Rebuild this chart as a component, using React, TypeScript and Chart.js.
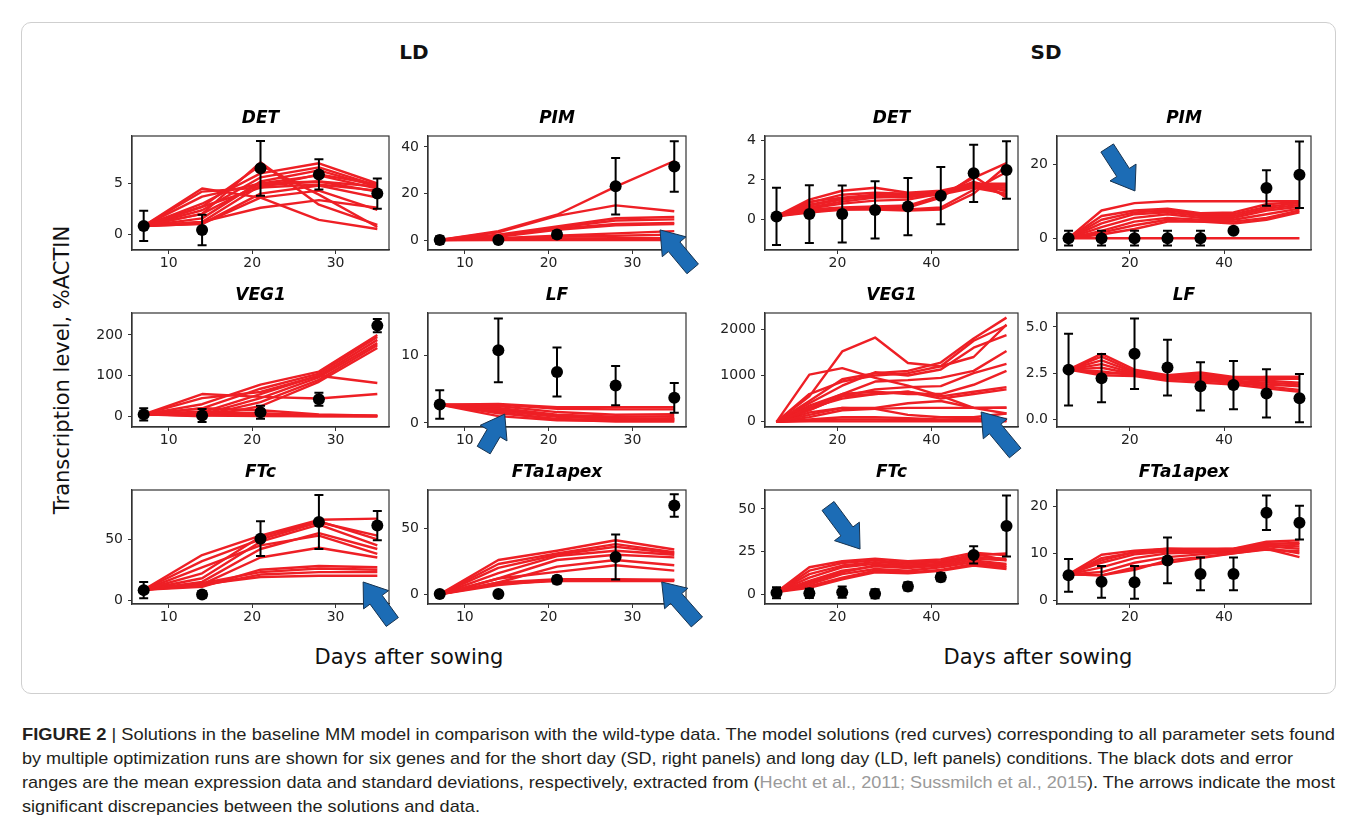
import React, { useEffect, useLayoutEffect, useRef } from 'react';
import { Chart, registerables } from 'chart.js';

Chart.register(...registerables);
Chart.defaults.font.family = "'DejaVu Sans', sans-serif";

// ---------------- data ----------------
const LD_DAYS = [7, 14, 21, 28, 35];
const SD_DAYS = [7, 14, 21, 28, 35, 42, 49, 56];
const LD_X_TICKS = [10, 20, 30];
const SD_X_TICKS = [20, 40];
const LD_X_RANGE = [5.6, 36.4];
const SD_X_RANGE = [4.55, 58.45];

// LD DET
const LD_DET_MEAN = [0.8, 0.4, 6.5, 5.9, 4.0];
const LD_DET_SD = [1.5, 1.5, 2.7, 1.5, 1.5];
const LD_DET_CURVES = [
  [0.8, 4.5, 3.6, 1.4, 0.5],
  [0.8, 4.2, 4.6, 4.9, 4.3],
  [0.8, 3.7, 5.0, 5.2, 4.7],
  [0.8, 2.0, 7.1, 2.9, 0.9],
  [0.8, 2.7, 6.8, 3.9, 0.7],
  [0.8, 3.0, 6.0, 7.0, 5.0],
  [0.8, 2.35, 5.6, 6.6, 4.8],
  [0.8, 1.55, 5.2, 6.3, 4.7],
  [0.8, 2.0, 5.0, 5.8, 4.5],
  [0.8, 1.2, 4.8, 5.2, 4.2],
  [0.8, 1.0, 4.0, 4.8, 3.6],
  [0.8, 1.2, 2.6, 3.35, 2.6],
  [0.8, 1.0, 3.6, 4.3, 2.4],
  [0.8, 2.7, 4.6, 5.9, 4.9],
];
const LD_DET_Y = [-1.58, 9.7];
const LD_DET_TICKS = [0, 5];

// LD PIM
const LD_PIM_MEAN = [0.2, 0.2, 2.5, 23.2, 31.6];
const LD_PIM_SD = [1.6, 1.3, 1.5, 12.1, 10.8];
const LD_PIM_CURVES = [
  [0.2, 4, 11, 23, 34],
  [0.2, 3.5, 10.5, 15, 12.5],
  [0.2, 2.5, 6, 9.5, 10],
  [0.2, 2, 5.5, 8.5, 9],
  [0.2, 2, 5, 7, 7.5],
  [0.2, 1.5, 4.5, 6.5, 7],
  [0.2, 1, 2, 3, 4],
  [0.2, 0.8, 1.5, 2, 2.5],
  [0.2, 0.5, 0.8, 1, 1],
  [0.2, 0.3, 0.4, 0.5, 0.5],
  [0.2, 0.2, 0.2, 0.2, 0.2],
];
const LD_PIM_Y = [-4.1, 44.7];
const LD_PIM_TICKS = [0, 20, 40];
const LD_PIM_ARROW = [33.3, 4.5, 37.2, -12.2];

// LD VEG1
const LD_VEG1_MEAN = [5, 2.5, 10, 42, 223];
const LD_VEG1_SD = [15, 16, 16, 16, 16];
const LD_VEG1_CURVES = [
  [5, 55, 48, 44, 55],
  [5, 45, 60, 100, 82],
  [5, 30, 78, 110, 200],
  [5, 20, 68, 105, 195],
  [5, 10, 55, 100, 188],
  [5, 5, 45, 96, 180],
  [5, 2, 35, 90, 175],
  [5, 0, 25, 85, 168],
  [5, 12, 8, 3, 2],
  [5, 8, 5, 2, 1],
  [5, 4, 2, 1, 0.5],
  [5, 2, 1, 0.5, 0.2],
  [5, 20, 15, 5, 2],
];
const LD_VEG1_Y = [-26, 254];
const LD_VEG1_TICKS = [0, 100, 200];

// LD LF
const LD_LF_MEAN = [2.7, 10.7, 7.5, 5.5, 3.7];
const LD_LF_SD = [2.1, 4.7, 3.6, 2.9, 2.2];
const LD_LF_CURVES = [
  [2.7, 2.8, 2.3, 2.3, 2.3],
  [2.7, 2.7, 2.1, 2.0, 2.0],
  [2.7, 2.5, 1.6, 1.2, 1.3],
  [2.7, 2.2, 1.2, 0.9, 1.0],
  [2.7, 1.8, 0.9, 0.6, 0.7],
  [2.7, 1.4, 0.6, 0.4, 0.5],
  [2.7, 1.0, 0.4, 0.3, 0.3],
  [2.7, 2.0, 1.0, 0.7, 0.6],
  [2.7, 1.6, 0.5, 0.2, 0.2],
];
const LD_LF_Y = [-0.6, 16.2];
const LD_LF_TICKS = [0, 10];
const LD_LF_ARROW = [14.76, 1.3, 12.25, -4.0];

// LD FTc
const LD_FTC_MEAN = [8.2, 4.6, 50.5, 64.2, 61.3];
const LD_FTC_SD = [6.6, 2.8, 14.3, 22.2, 12];
const LD_FTC_CURVES = [
  [8.5, 37, 53, 66, 67],
  [8.5, 32, 50, 64, 53],
  [8.5, 22, 52, 65, 50],
  [8.5, 18, 48, 62, 45],
  [8.5, 15, 42, 55, 42],
  [8.5, 27, 45, 53, 38],
  [8.5, 13, 35, 43, 35],
  [8.5, 11, 25, 28, 27],
  [8.5, 14, 23, 26, 25],
  [8.5, 12, 21, 23, 23],
  [8.5, 13, 19, 20, 20],
];
const LD_FTC_Y = [-3.2, 90.5];
const LD_FTC_TICKS = [0, 50];
const LD_FTC_ARROW = [33.3, 14.9, 36.8, -18];

// LD FTa1apex
const LD_FTA_MEAN = [0.3, 0.3, 11, 28.3, 67.2];
const LD_FTA_SD = [2.0, 2.0, 2.8, 17, 8.5];
const LD_FTA_CURVES = [
  [0, 26, 33, 41, 34],
  [0, 23, 31, 38, 32],
  [0, 20, 30, 36, 31],
  [0, 16, 29, 33, 30],
  [0, 12, 26, 30, 28],
  [0, 9, 21, 26, 22],
  [0, 12, 17, 22, 18],
  [0, 7, 11, 11, 11],
  [0, 8, 10, 10, 10],
  [0, 9, 11.5, 11.5, 11],
];
const LD_FTA_Y = [-7.3, 79];
const LD_FTA_TICKS = [0, 50];
const LD_FTA_ARROW = [33.5, 9.35, 37.7, -20.9];

// SD DET
const SD_DET_MEAN = [0.15, 0.27, 0.27, 0.48, 0.65, 1.2, 2.33, 2.5];
const SD_DET_SD = [1.45, 1.46, 1.44, 1.45, 1.45, 1.45, 1.45, 1.46];
const SD_DET_CURVES = [
  [0.15, 1.0, 1.45, 1.6, 1.35, 1.45, 1.8, 1.8],
  [0.15, 0.85, 1.25, 1.35, 1.3, 1.4, 1.75, 1.7],
  [0.15, 0.9, 1.1, 1.25, 1.25, 1.35, 1.7, 1.6],
  [0.15, 0.7, 1.0, 1.2, 1.2, 1.3, 1.65, 1.5],
  [0.15, 0.6, 0.9, 1.1, 1.15, 1.25, 1.6, 1.3],
  [0.15, 0.5, 0.6, 0.65, 0.7, 1.2, 2.1, 2.85],
  [0.15, 0.45, 0.55, 0.6, 0.5, 0.6, 1.5, 2.4],
  [0.15, 0.4, 0.5, 0.5, 0.45, 0.5, 1.3, 2.7],
  [0.15, 0.35, 0.5, 0.55, 0.6, 1.1, 2.2, 1.1],
  [0.15, 0.55, 0.8, 0.95, 1.0, 1.3, 1.9, 1.4],
  [0.15, 0.75, 1.05, 1.15, 1.1, 1.4, 1.8, 1.2],
];
const SD_DET_Y = [-1.55, 4.22];
const SD_DET_TICKS = [0, 2, 4];

// SD PIM
const SD_PIM_MEAN = [0, 0, 0, 0, 0, 2.0, 13.6, 17.2];
const SD_PIM_SD = [2, 2, 2, 2, 2, 0.3, 4.8, 9];
const SD_PIM_CURVES = [
  [0, 7.5, 9.5, 10, 10, 10, 10, 10],
  [0, 6, 7.5, 8, 6.8, 7, 9.2, 9.8],
  [0, 5, 7, 7.5, 6.5, 6.5, 8.5, 9.5],
  [0, 4, 6.5, 7, 6, 6, 8, 9],
  [0, 3, 5.5, 6.5, 5.5, 5.5, 7.5, 8.5],
  [0, 2, 4.5, 5.5, 5, 5, 6.5, 8],
  [0, 1.5, 3.5, 5, 4.5, 4.5, 5.5, 7.5],
  [0, 1, 2.5, 4.5, 4.5, 4, 5, 7],
  [0, 0, 0, 0, 0, 0, 0, 0],
];
const SD_PIM_Y = [-3.2, 27.7];
const SD_PIM_TICKS = [0, 20];
const SD_PIM_ARROW = [21.1, 12.8, 15.2, 24.45];

// SD VEG1 (no measured points)
const SD_VEG1_MEAN: number[] = [];
const SD_VEG1_SD: number[] = [];
const SD_VEG1_CURVES = [
  [0, 1020, 1160, 950, 780, 560, 300, 180],
  [0, 550, 1520, 1820, 1270, 1200, 1400, 2100],
  [0, 450, 920, 1050, 1100, 1280, 1800, 2250],
  [0, 600, 870, 1000, 1050, 1200, 1750, 2080],
  [0, 400, 780, 1070, 1000, 1130, 1600, 1870],
  [0, 300, 600, 870, 900, 950, 1100, 1530],
  [0, 250, 550, 700, 750, 770, 1050, 1250],
  [0, 350, 600, 650, 600, 600, 800, 1100],
  [0, 250, 550, 600, 650, 550, 650, 750],
  [0, 300, 500, 600, 650, 500, 600, 700],
  [0, 150, 300, 300, 400, 450, 300, 310],
  [0, 100, 250, 280, 300, 300, 300, 300],
  [0, 200, 300, 280, 150, 100, 100, 180],
  [0, 50, 100, 100, 80, 50, 60, 60],
  [0, 30, 50, 50, 40, 30, 30, 20],
  [0, 10, 10, 10, 10, 10, 10, 10],
];
const SD_VEG1_Y = [-112, 2350];
const SD_VEG1_TICKS = [0, 1000, 2000];
const SD_VEG1_ARROW = [50.6, 212, 57.85, -674];

// SD LF
const SD_LF_MEAN = [2.7, 2.24, 3.55, 2.81, 1.8, 1.87, 1.42, 1.16];
const SD_LF_SD = [1.93, 1.3, 1.9, 1.5, 1.3, 1.3, 1.3, 1.3];
const SD_LF_CURVES = [
  [2.7, 3.55, 2.7, 2.4, 2.55, 2.3, 2.3, 2.3],
  [2.7, 3.4, 2.6, 2.35, 2.5, 2.25, 2.2, 2.2],
  [2.7, 3.2, 2.55, 2.3, 2.4, 2.2, 2.1, 2.0],
  [2.7, 3.0, 2.5, 2.3, 2.3, 2.1, 2.0, 1.9],
  [2.7, 2.8, 2.45, 2.2, 2.2, 2.05, 1.9, 1.8],
  [2.7, 2.6, 2.4, 2.2, 2.1, 2.0, 1.8, 1.6],
  [2.7, 2.4, 2.35, 2.1, 2.0, 1.9, 1.7, 1.5],
  [2.7, 2.5, 2.5, 2.3, 2.2, 2.2, 2.3, 2.3],
];
const SD_LF_Y = [-0.39, 5.75];
const SD_LF_TICKS = [0, 2.5, 5];

// SD FTc
const SD_FTC_MEAN = [1.2, 0.8, 1.5, 0.6, 4.8, 10.2, 23.2, 40];
const SD_FTC_SD = [3.2, 2.7, 3.3, 2.6, 2.4, 2.4, 5, 17.8];
const SD_FTC_CURVES = [
  [1.5, 16, 19.5, 21, 19.5, 20.5, 24.5, 23],
  [1.5, 14, 18.5, 20, 18.5, 19.5, 23, 24],
  [1.5, 12, 17, 19, 18, 19, 22, 21],
  [1.5, 10, 16, 18, 17, 18, 21, 20],
  [1.5, 8, 14, 16.5, 15.5, 17, 20, 18],
  [1.5, 6, 12, 15, 14, 16, 19, 17],
  [1.5, 5, 10, 14, 13, 14.5, 18, 16],
  [1.5, 4, 9, 13, 12.5, 14, 17, 15],
  [1.5, 7, 13, 17, 16, 18, 24, 20],
];
const SD_FTC_Y = [-5.4, 61];
const SD_FTC_TICKS = [0, 25, 50];
const SD_FTC_ARROW = [24.8, 26.6, 17.98, 51.7];

// SD FTa1apex
const SD_FTA_MEAN = [5.3, 3.9, 3.8, 8.5, 5.6, 5.6, 18.7, 16.6];
const SD_FTA_SD = [3.5, 3.4, 3.5, 4.9, 3.5, 3.5, 3.7, 3.6];
const SD_FTA_CURVES = [
  [5.5, 9.7, 10.6, 11, 11, 11, 12.5, 12.8],
  [5.5, 9.0, 10.2, 10.7, 10.7, 10.8, 12.2, 12.0],
  [5.5, 8.0, 9.8, 10.4, 10.5, 10.6, 11.8, 11.5],
  [5.5, 7.0, 9.0, 10.0, 10.2, 10.5, 11.5, 11.0],
  [5.5, 6.0, 8.0, 9.2, 9.8, 10.3, 11.2, 10.0],
  [5.5, 5.3, 6.5, 8.5, 9.2, 10.0, 11.0, 9.2],
  [5.5, 5.3, 7.0, 8.0, 9.0, 10.0, 10.8, 10.5],
  [5.5, 8.5, 10.3, 11, 10.8, 11, 12.0, 12.3],
];
const SD_FTA_Y = [-0.85, 23.6];
const SD_FTA_TICKS = [0, 10, 20];

// ---------------- layout ----------------
const COLS = [
  { left: 132, w: 257 },
  { left: 428, w: 258 },
  { left: 765, w: 253 },
  { left: 1057, w: 254 },
];
const ROW_TOPS = [136, 313, 490];
const PLOT_H = 114;
const Y_AXIS_W = 62;
const X_AXIS_H = 42;
const TITLE_H = 32;
const RIGHT_PAD = 30;

const RED = '#ee1f25';
const AXIS = '#333333';
const TXT = '#222222';

type PanelDef = {
  key: string; title: string; col: number; row: number;
  days: number[]; xRange: number[]; xTicks: number[];
  mean: number[]; sd: number[]; curves: number[][];
  yRange: number[]; yTicks: number[]; decimals: number;
  arrow: number[] | null;
};

const PANELS: PanelDef[] = [
  { key: 'ld-det', title: 'DET', col: 0, row: 0, days: LD_DAYS, xRange: LD_X_RANGE, xTicks: LD_X_TICKS, mean: LD_DET_MEAN, sd: LD_DET_SD, curves: LD_DET_CURVES, yRange: LD_DET_Y, yTicks: LD_DET_TICKS, decimals: 0, arrow: null },
  { key: 'ld-pim', title: 'PIM', col: 1, row: 0, days: LD_DAYS, xRange: LD_X_RANGE, xTicks: LD_X_TICKS, mean: LD_PIM_MEAN, sd: LD_PIM_SD, curves: LD_PIM_CURVES, yRange: LD_PIM_Y, yTicks: LD_PIM_TICKS, decimals: 0, arrow: LD_PIM_ARROW },
  { key: 'ld-veg1', title: 'VEG1', col: 0, row: 1, days: LD_DAYS, xRange: LD_X_RANGE, xTicks: LD_X_TICKS, mean: LD_VEG1_MEAN, sd: LD_VEG1_SD, curves: LD_VEG1_CURVES, yRange: LD_VEG1_Y, yTicks: LD_VEG1_TICKS, decimals: 0, arrow: null },
  { key: 'ld-lf', title: 'LF', col: 1, row: 1, days: LD_DAYS, xRange: LD_X_RANGE, xTicks: LD_X_TICKS, mean: LD_LF_MEAN, sd: LD_LF_SD, curves: LD_LF_CURVES, yRange: LD_LF_Y, yTicks: LD_LF_TICKS, decimals: 0, arrow: LD_LF_ARROW },
  { key: 'ld-ftc', title: 'FTc', col: 0, row: 2, days: LD_DAYS, xRange: LD_X_RANGE, xTicks: LD_X_TICKS, mean: LD_FTC_MEAN, sd: LD_FTC_SD, curves: LD_FTC_CURVES, yRange: LD_FTC_Y, yTicks: LD_FTC_TICKS, decimals: 0, arrow: LD_FTC_ARROW },
  { key: 'ld-fta', title: 'FTa1apex', col: 1, row: 2, days: LD_DAYS, xRange: LD_X_RANGE, xTicks: LD_X_TICKS, mean: LD_FTA_MEAN, sd: LD_FTA_SD, curves: LD_FTA_CURVES, yRange: LD_FTA_Y, yTicks: LD_FTA_TICKS, decimals: 0, arrow: LD_FTA_ARROW },
  { key: 'sd-det', title: 'DET', col: 2, row: 0, days: SD_DAYS, xRange: SD_X_RANGE, xTicks: SD_X_TICKS, mean: SD_DET_MEAN, sd: SD_DET_SD, curves: SD_DET_CURVES, yRange: SD_DET_Y, yTicks: SD_DET_TICKS, decimals: 0, arrow: null },
  { key: 'sd-pim', title: 'PIM', col: 3, row: 0, days: SD_DAYS, xRange: SD_X_RANGE, xTicks: SD_X_TICKS, mean: SD_PIM_MEAN, sd: SD_PIM_SD, curves: SD_PIM_CURVES, yRange: SD_PIM_Y, yTicks: SD_PIM_TICKS, decimals: 0, arrow: SD_PIM_ARROW },
  { key: 'sd-veg1', title: 'VEG1', col: 2, row: 1, days: SD_DAYS, xRange: SD_X_RANGE, xTicks: SD_X_TICKS, mean: SD_VEG1_MEAN, sd: SD_VEG1_SD, curves: SD_VEG1_CURVES, yRange: SD_VEG1_Y, yTicks: SD_VEG1_TICKS, decimals: 0, arrow: SD_VEG1_ARROW },
  { key: 'sd-lf', title: 'LF', col: 3, row: 1, days: SD_DAYS, xRange: SD_X_RANGE, xTicks: SD_X_TICKS, mean: SD_LF_MEAN, sd: SD_LF_SD, curves: SD_LF_CURVES, yRange: SD_LF_Y, yTicks: SD_LF_TICKS, decimals: 1, arrow: null },
  { key: 'sd-ftc', title: 'FTc', col: 2, row: 2, days: SD_DAYS, xRange: SD_X_RANGE, xTicks: SD_X_TICKS, mean: SD_FTC_MEAN, sd: SD_FTC_SD, curves: SD_FTC_CURVES, yRange: SD_FTC_Y, yTicks: SD_FTC_TICKS, decimals: 0, arrow: SD_FTC_ARROW },
  { key: 'sd-fta', title: 'FTa1apex', col: 3, row: 2, days: SD_DAYS, xRange: SD_X_RANGE, xTicks: SD_X_TICKS, mean: SD_FTA_MEAN, sd: SD_FTA_SD, curves: SD_FTA_CURVES, yRange: SD_FTA_Y, yTicks: SD_FTA_TICKS, decimals: 0, arrow: null },
];

function drawArrow(ctx: CanvasRenderingContext2D, tx: number, ty: number, sx: number, sy: number) {
  const dx = tx - sx, dy = ty - sy;
  const len = Math.hypot(dx, dy);
  const ux = dx / len, uy = dy / len;
  const nx = -uy, ny = ux;
  const sw = 7.5, hw = 15.5, hl = 22;
  const bx = tx - ux * hl, by = ty - uy * hl;
  ctx.save();
  ctx.beginPath();
  ctx.moveTo(sx + nx * sw, sy + ny * sw);
  ctx.lineTo(bx + nx * sw, by + ny * sw);
  ctx.lineTo(bx + nx * hw, by + ny * hw);
  ctx.lineTo(tx, ty);
  ctx.lineTo(bx - nx * hw, by - ny * hw);
  ctx.lineTo(bx - nx * sw, by - ny * sw);
  ctx.lineTo(sx - nx * sw, sy - ny * sw);
  ctx.closePath();
  ctx.fillStyle = '#1c6cb5';
  ctx.fill();
  ctx.lineWidth = 1;
  ctx.strokeStyle = '#16324f';
  ctx.stroke();
  ctx.restore();
}

function PanelChart({ p }: { p: PanelDef }) {
  const ref = useRef<HTMLCanvasElement>(null);
  const col = COLS[p.col];
  const top = ROW_TOPS[p.row];
  const cw = Y_AXIS_W + col.w + RIGHT_PAD;
  const ch = TITLE_H + PLOT_H + X_AXIS_H;

  useEffect(() => {
    const decor = {
      id: 'decor',
      beforeDatasetDraw(chart: any, args: any) {
        if (args.index !== 0) return;
        const ctx = chart.ctx as CanvasRenderingContext2D;
        const xs = chart.scales.x, ys = chart.scales.y;
        ctx.save();
        ctx.strokeStyle = '#000';
        ctx.lineWidth = 2;
        p.mean.forEach((m, i) => {
          const x = xs.getPixelForValue(p.days[i]);
          const y1 = ys.getPixelForValue(m + p.sd[i]);
          const y2 = ys.getPixelForValue(m - p.sd[i]);
          ctx.beginPath();
          ctx.moveTo(x, y1); ctx.lineTo(x, y2);
          ctx.moveTo(x - 4.5, y1); ctx.lineTo(x + 4.5, y1);
          ctx.moveTo(x - 4.5, y2); ctx.lineTo(x + 4.5, y2);
          ctx.stroke();
        });
        ctx.restore();
      },
      afterDraw(chart: any) {
        const ctx = chart.ctx as CanvasRenderingContext2D;
        const a = chart.chartArea;
        ctx.save();
        ctx.strokeStyle = AXIS;
        ctx.lineWidth = 1.2;
        ctx.strokeRect(a.left, a.top, a.right - a.left, a.bottom - a.top);
        ctx.restore();
        if (p.arrow) {
          const xs = chart.scales.x, ys = chart.scales.y;
          drawArrow(ctx,
            xs.getPixelForValue(p.arrow[0]), ys.getPixelForValue(p.arrow[1]),
            xs.getPixelForValue(p.arrow[2]), ys.getPixelForValue(p.arrow[3]));
        }
      },
    };

    const datasets: any[] = [
      {
        data: p.mean.map((m, i) => ({ x: p.days[i], y: m })),
        showLine: false,
        pointRadius: 6,
        pointBackgroundColor: '#000',
        pointBorderColor: '#000',
        pointBorderWidth: 0,
        clip: false,
      },
      ...p.curves.map((c) => ({
        data: c.map((v, i) => ({ x: p.days[i], y: v })),
        borderColor: RED,
        borderWidth: 2.4,
        pointRadius: 0,
        tension: 0,
        fill: false,
        borderJoinStyle: 'round',
      })),
    ];

    const axisCommon = {
      grid: { display: true, drawOnChartArea: false, drawTicks: true, tickLength: 4, color: AXIS, lineWidth: 1 },
      border: { display: true, color: AXIS, width: 1.2 },
    };

    const chart = new Chart(ref.current as HTMLCanvasElement, {
      type: 'line',
      data: { datasets },
      options: {
        responsive: false,
        animation: false,
        devicePixelRatio: 1,
        layout: { padding: { left: 0, right: RIGHT_PAD, top: 0, bottom: 0 } },
        plugins: {
          legend: { display: false },
          tooltip: { enabled: false },
          title: {
            display: true,
            text: p.title,
            fullSize: false,
            color: '#000',
            font: { family: "'DejaVu Sans', sans-serif", size: 17, weight: 'bold', style: 'italic', lineHeight: '20px' },
            padding: { top: 5, bottom: 7 },
          },
        },
        scales: {
          x: {
            type: 'linear',
            min: p.xRange[0],
            max: p.xRange[1],
            ...axisCommon,
            afterBuildTicks: (s: any) => { s.ticks = p.xTicks.map((v) => ({ value: v })); },
            afterFit: (s: any) => { s.height = X_AXIS_H; },
            ticks: { color: TXT, font: { size: 14 }, padding: 1, autoSkip: false, maxRotation: 0, callback: (v: any) => String(v) },
          },
          y: {
            type: 'linear',
            min: p.yRange[0],
            max: p.yRange[1],
            ...axisCommon,
            afterBuildTicks: (s: any) => { s.ticks = p.yTicks.map((v) => ({ value: v })); },
            afterFit: (s: any) => { s.width = Y_AXIS_W; },
            ticks: { color: TXT, font: { size: 14 }, padding: 5, autoSkip: false, callback: (v: any) => Number(v).toFixed(p.decimals) },
          },
        },
      } as any,
      plugins: [decor as any],
    });
    return () => chart.destroy();
  }, []);

  return (
    <canvas
      ref={ref}
      width={cw}
      height={ch}
      style={{ position: 'absolute', left: col.left - Y_AXIS_W, top: top - TITLE_H, width: cw, height: ch }}
    />
  );
}

const CAPTION_WIDTHS = [1313, 1271, 1313, 0];

function Caption() {
  const refs = useRef<(HTMLSpanElement | null)[]>([]);
  useLayoutEffect(() => {
    const scales: number[] = [];
    refs.current.forEach((el, i) => {
      if (!el || !CAPTION_WIDTHS[i]) return;
      el.style.transform = 'none';
      const w = el.getBoundingClientRect().width;
      if (w > 0) {
        const s = CAPTION_WIDTHS[i] / w;
        scales.push(s);
        el.style.transform = `scaleX(${s})`;
      }
    });
    const last = refs.current[3];
    if (last && scales.length) {
      const avg = scales.reduce((a, b) => a + b, 0) / scales.length;
      last.style.transform = `scaleX(${avg})`;
    }
  }, []);
  const lineStyle = (i: number): React.CSSProperties => ({
    position: 'absolute', left: 22, top: 723 + i * 24, whiteSpace: 'nowrap',
    transformOrigin: '0 0', display: 'inline-block', lineHeight: '24px',
  });
  const setRef = (i: number) => (el: HTMLSpanElement | null) => { refs.current[i] = el; };
  return (
    <div style={{ fontFamily: "'Liberation Sans', Arial, sans-serif", fontSize: 17, color: '#231f20' }}>
      <span ref={setRef(0)} style={lineStyle(0)}>
        <b>FIGURE 2</b> | Solutions in the baseline MM model in comparison with the wild-type data. The model solutions (red curves) corresponding to all parameter sets found
      </span>
      <span ref={setRef(1)} style={lineStyle(1)}>
        by multiple optimization runs are shown for six genes and for the short day (SD, right panels) and long day (LD, left panels) conditions. The black dots and error
      </span>
      <span ref={setRef(2)} style={lineStyle(2)}>
        ranges are the mean expression data and standard deviations, respectively, extracted from (<span style={{ color: '#9a9a9a' }}>Hecht et al., 2011; Sussmilch et al., 2015</span>). The arrows indicate the most
      </span>
      <span ref={setRef(3)} style={lineStyle(3)}>
        significant discrepancies between the solutions and data.
      </span>
    </div>
  );
}

function Label({ x, y, text, size, bold, rotate }: { x: number; y: number; text: string; size: number; bold?: boolean; rotate?: boolean }) {
  return (
    <div
      style={{
        position: 'absolute', left: x, top: y, whiteSpace: 'nowrap', lineHeight: 1,
        fontFamily: "'DejaVu Sans', sans-serif", fontSize: size, fontWeight: bold ? 'bold' : 'normal', color: '#111',
        transform: `translate(-50%, -50%)${rotate ? ' rotate(-90deg)' : ''}`,
      }}
    >
      {text}
    </div>
  );
}

export default function App() {
  return (
    <div style={{ position: 'absolute', left: 0, top: 0, width: 1355, height: 822, background: '#fff', overflow: 'hidden' }}>
      <div style={{ position: 'absolute', left: 21, top: 22, width: 1315, height: 672, border: '1px solid #cfcfcf', borderRadius: 10, boxSizing: 'border-box' }} />
      <Label x={414} y={52} text="LD" size={20} bold />
      <Label x={1046} y={52} text="SD" size={20} bold />
      <Label x={62} y={370} text="Transcription level, %ACTIN" size={21} rotate />
      <Label x={409} y={657} text="Days after sowing" size={21} />
      <Label x={1038} y={657} text="Days after sowing" size={21} />
      {PANELS.map((p) => <PanelChart key={p.key} p={p} />)}
      <Caption />
    </div>
  );
}
